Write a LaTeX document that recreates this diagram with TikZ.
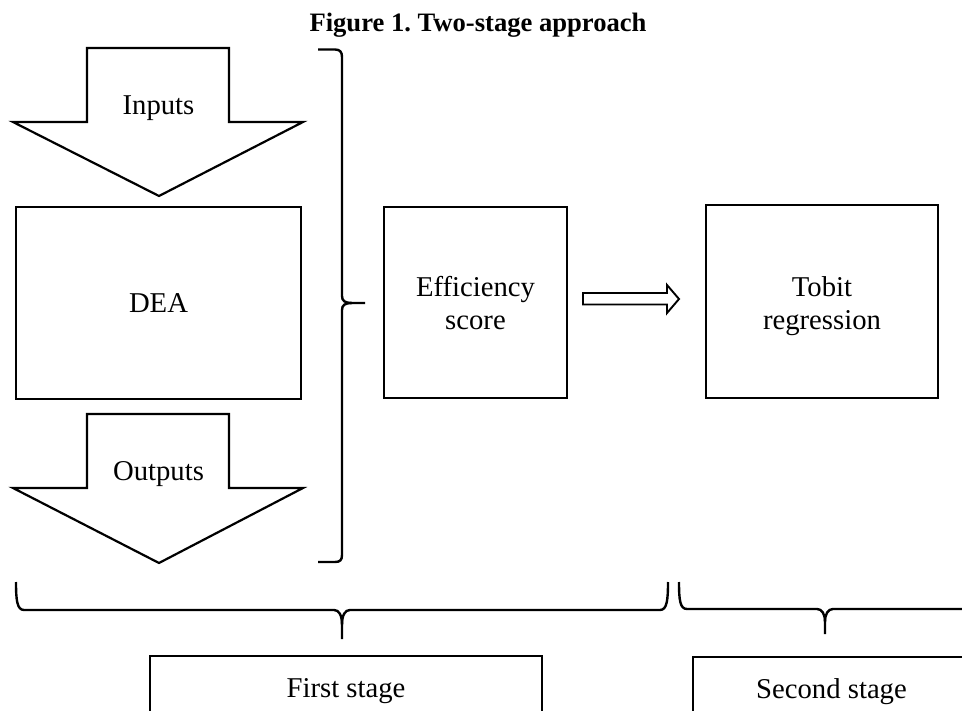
\documentclass[tikz,border=0pt]{standalone}
\usepackage{fontspec}
\setmainfont{Liberation Serif}
\frenchspacing
\begin{document}
\begin{tikzpicture}[x=1pt,y=-1pt]
\tikzset{
  box/.style={draw, line width=2.2pt, inner sep=0pt, align=center, font=\fontsize{28.7}{33}\selectfont},
  blockarrow/.style={draw, line width=2.2pt, line join=miter},
  bracepath/.style={draw, line width=2.4pt},
  lbl/.style={font=\fontsize{28.7}{33}\selectfont, inner sep=0pt, anchor=base}
}
\clip (0,0) rectangle (962,711);
\fill[white] (0,0) rectangle (962,711);

% title
\node[font=\bfseries\fontsize{26.6}{30}\selectfont, anchor=base, inner sep=0pt] (title) at (478,32) {Figure 1. Two-stage approach};

% Inputs block arrow
\draw[blockarrow] (87,48) -- (229,48) -- (229,122) -- (303,122) -- (159,196) -- (13,122) -- (87,122) -- cycle;
\node[lbl] (inputs) at (158.5,114.5) {Inputs};

% DEA box
\node[box, minimum width=285pt, minimum height=192pt] (dea) at (158.5,303) {DEA};

% Outputs block arrow
\draw[blockarrow] (87,414) -- (229,414) -- (229,488) -- (303,488) -- (159,563) -- (13,488) -- (87,488) -- cycle;
\node[lbl] (outputs) at (158.5,481) {Outputs};

% right brace
\draw[bracepath] (318,49.5) -- (335,49.5) .. controls (340,49.5) and (342,52) .. (342,57) -- (342,296) .. controls (342,301) and (345,303) .. (352,303) -- (365,303);
\draw[bracepath] (352,303) .. controls (345,303) and (342,305) .. (342,310) -- (342,555) .. controls (342,560) and (340,562) .. (335,562) -- (318,562);

% Efficiency score
\node[box, minimum width=183pt, minimum height=191pt] (eff) at (475.5,302.5) {\rule{0pt}{22pt}Efficiency\\score};

% hollow arrow
\draw[line width=1.9pt, line join=miter] (583,293) -- (667,293) -- (667,285) -- (679,299) -- (667,313) -- (667,304.5) -- (583,304.5) -- cycle;

% Tobit regression
\node[box, minimum width=232pt, minimum height=193pt] (tobit) at (822,301.5) {\rule{0pt}{30pt}Tobit\\regression};

% bottom brace 1
\draw[bracepath] (16,582) .. controls (16,600) and (17,610) .. (24,610) -- (334,610) .. controls (339,610) and (342,615) .. (342,625) -- (342,639);
\draw[bracepath] (342,625) .. controls (342,615) and (345,610) .. (350,610) -- (660,610) .. controls (667,610) and (668,600) .. (668,582);

% bottom brace 2
\draw[bracepath] (679,582) .. controls (679,600) and (680,609) .. (687,609) -- (817,609) .. controls (822,609) and (825,614) .. (825,622) -- (825,634);
\draw[bracepath] (825,622) .. controls (825,614) and (828,609) .. (833,609) -- (963,609) .. controls (970,609) and (971,600) .. (971,582);

% stage boxes
\node[box, minimum width=392pt, minimum height=69pt, anchor=north] (first) at (346,655) {First stage};
\node[box, minimum width=277pt, minimum height=69pt, anchor=north] (second) at (831.5,656) {Second stage};
\end{tikzpicture}
\end{document}
